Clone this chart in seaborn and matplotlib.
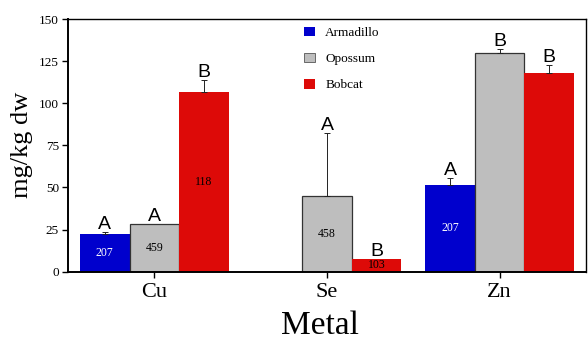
import numpy as np
import pandas as pd
import matplotlib
matplotlib.use("Agg")
import matplotlib.pyplot as plt
import seaborn as sns

# Mean metal concentrations (mg/kg dry weight) by species
metals = ["Cu", "Se", "Zn"]
species = ["Armadillo", "Opossum", "Bobcat"]
armadillo = [22.4, np.nan, 51.3]
opossum = [28.5, 44.9, 129.9]
bobcat = [106.9, 7.7, 117.9]

# Upper error (standard error)
armadillo_err = [1.3, np.nan, 4.3]
opossum_err = [0.0, 37.2, 2.3]
bobcat_err = [6.9, 0.0, 4.6]

# Significance groups
armadillo_grp = ["A", "", "A"]
opossum_grp = ["A", "A", "B"]
bobcat_grp = ["B", "B", "B"]

# Sample sizes shown inside bars
armadillo_n = ["207", "", "207"]
opossum_n = ["459", "458", ""]
bobcat_n = ["118", "103", ""]

palette = {"Armadillo": "#0000CD", "Opossum": "#BEBEBE", "Bobcat": "#DD0A08"}
text_col = {"Armadillo": "white", "Opossum": "black", "Bobcat": "black"}

rows = []
for sp, vals, errs, grps, ns in [
    ("Armadillo", armadillo, armadillo_err, armadillo_grp, armadillo_n),
    ("Opossum", opossum, opossum_err, opossum_grp, opossum_n),
    ("Bobcat", bobcat, bobcat_err, bobcat_grp, bobcat_n),
]:
    for m, v, e, g, n in zip(metals, vals, errs, grps, ns):
        rows.append(dict(Metal=m, Species=sp, value=v, err=e, grp=g, n=n))
df = pd.DataFrame(rows)

sns.set_style("ticks")
serif = ["Liberation Serif", "DejaVu Serif"]
sans = ["Liberation Sans", "DejaVu Sans"]
plt.rcParams.update({
    "font.family": serif,
    "text.color": "black",
    "axes.labelcolor": "black",
    "xtick.color": "black",
    "ytick.color": "black",
    "axes.edgecolor": "black",
})

fig = plt.figure(figsize=(5.88, 3.40), dpi=100)
ax = fig.add_axes([0.1156, 0.2009, 0.8810, 0.7431])

sns.barplot(data=df.dropna(subset=["value"]), x="Metal", y="value", hue="Species",
            order=metals, hue_order=species, palette=palette, width=0.86,
            errorbar=None, saturation=1, linewidth=0, ax=ax)

# Style bars, then add error bars, group letters and sample sizes
for cont, sp in zip(ax.containers, species):
    sub = df[df.Species == sp].set_index("Metal")
    for bar in cont.patches:
        cx = bar.get_x() + bar.get_width() / 2
        m = metals[int(round(cx))]
        r = sub.loc[m]
        if sp == "Opossum":
            bar.set_edgecolor("#333333")
            bar.set_linewidth(0.9)
        top = r.value
        if r.err and r.err > 0:
            ax.errorbar(cx, r.value, yerr=[[0], [r.err]], fmt="none",
                        ecolor="#222222", elinewidth=0.7, capsize=2.2,
                        capthick=0.7, zorder=1)
            top = r.value + r.err
        if r.grp:
            ax.text(cx, top + 1.8, r.grp, ha="center", va="baseline",
                    fontsize=14, family=sans, color="black")
        if r.n:
            ax.text(cx, r.value / 2, r.n, ha="center", va="center",
                    fontsize=8.5, family=serif, color=text_col[sp])

ax.set_ylim(0, 150)
ax.set_xlim(-0.5, 2.5)
ax.set_yticks([0, 25, 50, 75, 100, 125, 150])
ax.set_ylabel("mg/kg dw", fontsize=19, labelpad=4)
ax.set_xlabel("Metal", fontsize=24, labelpad=6)
ax.xaxis.label.set_x(0.487)
ax.tick_params(axis="y", labelsize=9.5, length=4.5, width=1, pad=2)
ax.tick_params(axis="x", labelsize=16, length=4, width=1, pad=4)

for side in ["left", "bottom"]:
    ax.spines[side].set_linewidth(1.4)
for side in ["top", "right"]:
    ax.spines[side].set_linewidth(1.0)

sns.move_legend(ax, "upper left", bbox_to_anchor=(0.445, 0.99), frameon=False,
                title=None, fontsize=9.5, handlelength=0.83, handleheight=0.72,
                handletextpad=0.8, labelspacing=1.05, borderaxespad=0)
for h in ax.get_legend().legend_handles:
    if h.get_facecolor()[:3] == matplotlib.colors.to_rgb(palette["Opossum"]):
        h.set_edgecolor("#555555")
        h.set_linewidth(0.6)

fig.savefig("out.png", dpi=100)
